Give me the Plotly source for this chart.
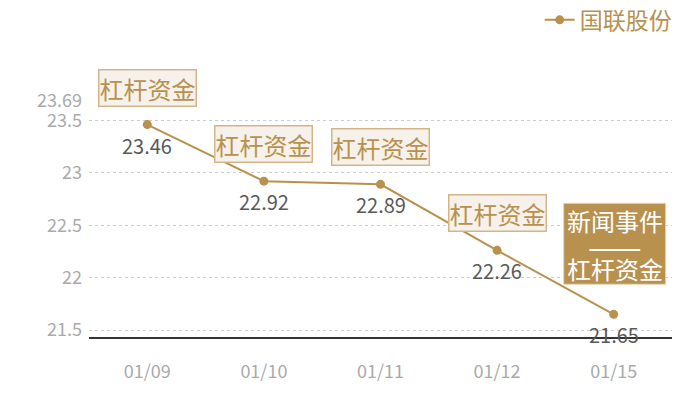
import plotly.graph_objects as go

dates = ["01/09", "01/10", "01/11", "01/12", "01/15"]
prices = [23.46, 22.92, 22.89, 22.26, 21.65]
notes = ["杠杆资金", "杠杆资金", "杠杆资金", "杠杆资金", None]
news_idx = 4  # the one point that also had a news event
news_lines = ["新闻事件", "——", "杠杆资金"]
y_ticks = [21.5, 22, 22.5, 23, 23.5, 23.69]
y_tick_text = ["21.5", "22", "22.5", "23", "23.5", "23.69"]

GOLD = "#b8914f"
FONT = "Noto Sans CJK SC"

# range padded 1% around the data, like the original
y_min = min(prices) * 0.99
y_max = max(prices) * 1.01

fig = go.Figure()
fig.add_trace(go.Scatter(
    x=dates, y=prices, name="国联股份",
    mode="lines+markers",
    line=dict(color=GOLD, width=2),
    marker=dict(color=GOLD, size=9),
    cliponaxis=False,
))

annotations = []
# value labels under each point
for d, p in zip(dates, prices):
    annotations.append(dict(
        x=d, y=p, text=f"{p:.2f}", showarrow=False,
        yanchor="top", yshift=-4,
        font=dict(family=FONT, size=20, color="#595959"),
    ))
# event boxes above each point
for d, p, note in zip(dates, prices, notes):
    if note is None:
        continue
    annotations.append(dict(
        x=d, y=p, text=note, showarrow=False,
        yanchor="bottom", yshift=18,
        font=dict(family=FONT, size=24, color=GOLD),
        bgcolor="#f6f1ea", bordercolor="#d2b68a",
        borderwidth=1.5, borderpad=0,
    ))

# the filled box for the news event, drawn as a pixel-sized rect on the point
fig.add_shape(
    type="rect", xref="x", yref="y",
    xsizemode="pixel", ysizemode="pixel",
    xanchor=dates[news_idx], yanchor=prices[news_idx],
    x0=-50, x1=52, y0=30, y1=111,
    fillcolor=GOLD, line=dict(color="#e6d6bd", width=1),
    layer="above",
)
for line_txt, shift, size in zip(news_lines, [94, 69, 46], [24, 32, 24]):
    annotations.append(dict(
        x=dates[news_idx], y=prices[news_idx], text=line_txt, showarrow=False,
        yanchor="middle", yshift=shift, xshift=1,
        font=dict(family=FONT, size=size, color="white"),
    ))

# page body adds an 8px offset, so the figure is 8px smaller each way
fig.update_layout(
    width=692, height=392,
    margin=dict(l=81, r=28, t=92, b=63, autoexpand=False),
    paper_bgcolor="white", plot_bgcolor="white",
    font=dict(family=FONT),
    showlegend=True,
    legend=dict(x=1.008, xanchor="right", y=1.338, yanchor="middle",
                font=dict(family=FONT, size=23, color=GOLD),
                itemwidth=30, bgcolor="rgba(0,0,0,0)"),
    annotations=annotations,
    xaxis=dict(
        type="category", range=[-0.5, len(dates) - 0.5],
        showgrid=False, ticks="",
        showline=True, linecolor="#333333", linewidth=1.5,
        tickfont=dict(family=FONT, size=18, color="#aaaaaa"),
        ticklabelstandoff=18,
    ),
    yaxis=dict(
        range=[y_min, y_max], tickvals=y_ticks, ticktext=y_tick_text,
        showgrid=True, gridcolor="#cccccc", griddash="dot", gridwidth=1,
        zeroline=False, showline=False, ticks="",
        tickfont=dict(family=FONT, size=18, color="#aaaaaa"),
        ticklabelstandoff=6,
    ),
)

fig.write_html("out.html")
